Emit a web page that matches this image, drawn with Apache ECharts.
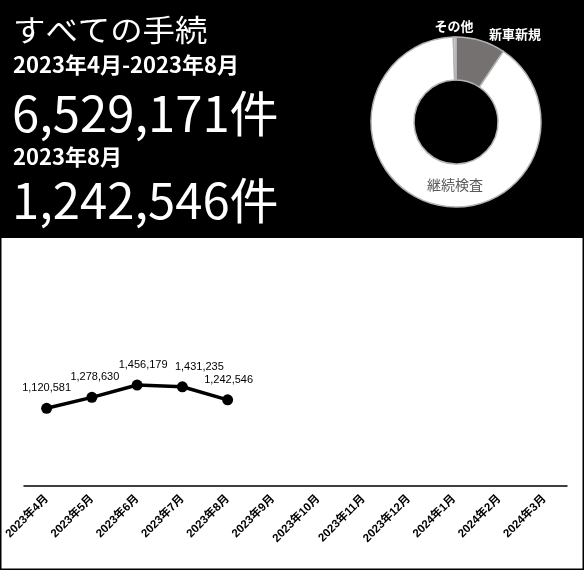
<!DOCTYPE html>
<html>
<head>
<meta charset="utf-8">
<script src="https://cdn.jsdelivr.net/npm/echarts@6/dist/echarts.min.js"></script>
<style>
body{margin:0;background:#fff;}
#main{width:584px;height:570px;}
</style>
</head>
<body>
<div id="main"></div>
<script>
var months=['2023年4月','2023年5月','2023年6月','2023年7月','2023年8月','2023年9月','2023年10月','2023年11月','2023年12月','2024年1月','2024年2月','2024年3月'];
var counts=[1120581,1278630,1456179,1431235,1242546];
var pieNames=['新車新規','継続検査','その他'];
var pieValues=[614000,5882171,33000];
var pieColors=['#767171','#ffffff','#d0cece'];

var titleText='すべての手続';
var periodText=months[0]+'-'+months[counts.length-1];
var lastText=months[counts.length-1];

function fmt(v){
	return v.toLocaleString('en-US');
}

//合計
var total=0;
for(var i=0;i<counts.length;i++){
	total+=counts[i];
}

var jp='"Noto Sans CJK JP"';
var pieData=[];
for(var j=0;j<pieNames.length;j++){
	pieData.push({value:pieValues[j], name:pieNames[j], itemStyle:{color:pieColors[j]}});
}

// ラベルの微調整（元の図で手動で動かしてある分）
var lineLabelShift=[0,3,6,17,1];

var option = {
	animation:false,
	backgroundColor:'#fff',
	grid: {
		left: 24,
		right: 17,
		top: 278,
		bottom: 84
	},
	xAxis: {
		type: 'category',
		data: months,
		axisLine: {lineStyle: {color: '#000', width: 1.5}},
		axisTick: {show: false},
		axisLabel: {
			rotate: 45,
			interval: 0,
			margin: 11,
			color: '#000',
			fontWeight: 'bold',
			fontSize: 11.5,
			fontFamily: '"Liberation Sans", "Noto Sans CJK JP"'
		}
	},
	yAxis: {
		type: 'value',
		min: 0,
		max: 3000000,
		show: false,
		splitLine: {show: false}
	},
	series: [
		{
			name: '件数',
			type: 'line',
			data: counts,
			symbol: 'circle',
			symbolSize: 11,
			lineStyle: {color: '#000', width: 3.5},
			itemStyle: {color: '#000'},
			label: {
				show: true,
				position: 'top',
				distance: 9,
				color: '#000',
				fontSize: 11,
				fontFamily: '"Liberation Sans"',
				formatter: function(p){ return fmt(p.value); }
			},
			labelLayout: function(p){
				return {dx: lineLabelShift[p.dataIndex]};
			}
		},
		{
			name: '手続内訳',
			type: 'pie',
			center: [456, 122],
			radius: [42, 85],
			startAngle: 90,
			clockwise: true,
			itemStyle: {borderColor: '#b4b4b4', borderWidth: 1.5},
			label: {
				show: true,
				position: 'outside',
				color: '#fff',
				fontWeight: 'bold',
				fontSize: 13,
				fontFamily: jp
			},
			labelLine: {show: false, length: 4, length2: 0},
			labelLayout: function(p){
				if(p.dataIndex==0) return {x:515, y:34, align:'center', verticalAlign:'middle'};
				if(p.dataIndex==2) return {x:454, y:26, align:'center', verticalAlign:'middle'};
				return {x:455, y:185, align:'center', verticalAlign:'middle'};
			},
			data: [
				pieData[0],
				{value:pieData[1].value, name:pieData[1].name, itemStyle:pieData[1].itemStyle, label:{color:'#595959', fontWeight:'normal', fontSize:14}},
				pieData[2]
			]
		}
	],
	graphic: [
		{type:'rect', z:-10, shape:{x:0,y:0,width:584,height:238}, style:{fill:'#000'}},
		{type:'text', left:13, top:15, scaleX:1.08, style:{text:titleText, fill:'#fff', font:'30px '+jp}},
		{type:'text', left:13, top:54, style:{text:periodText, fill:'#fff', font:'bold 22px '+jp}},
		{type:'text', left:12, top:89, style:{text:fmt(total)+'件', fill:'#fff', font:'49px '+jp}},
		{type:'text', left:13, top:146, style:{text:lastText, fill:'#fff', font:'bold 22px '+jp}},
		{type:'text', left:12, top:176, style:{text:fmt(counts[counts.length-1])+'件', fill:'#fff', font:'49px '+jp}},
		{type:'rect', z:100, shape:{x:0.75,y:0.75,width:582.5,height:568.5}, style:{fill:'none', stroke:'#000', lineWidth:1.5}}
	]
};

var myChart = echarts.init(document.getElementById('main'));
myChart.setOption(option);
</script>
</body>
</html>
